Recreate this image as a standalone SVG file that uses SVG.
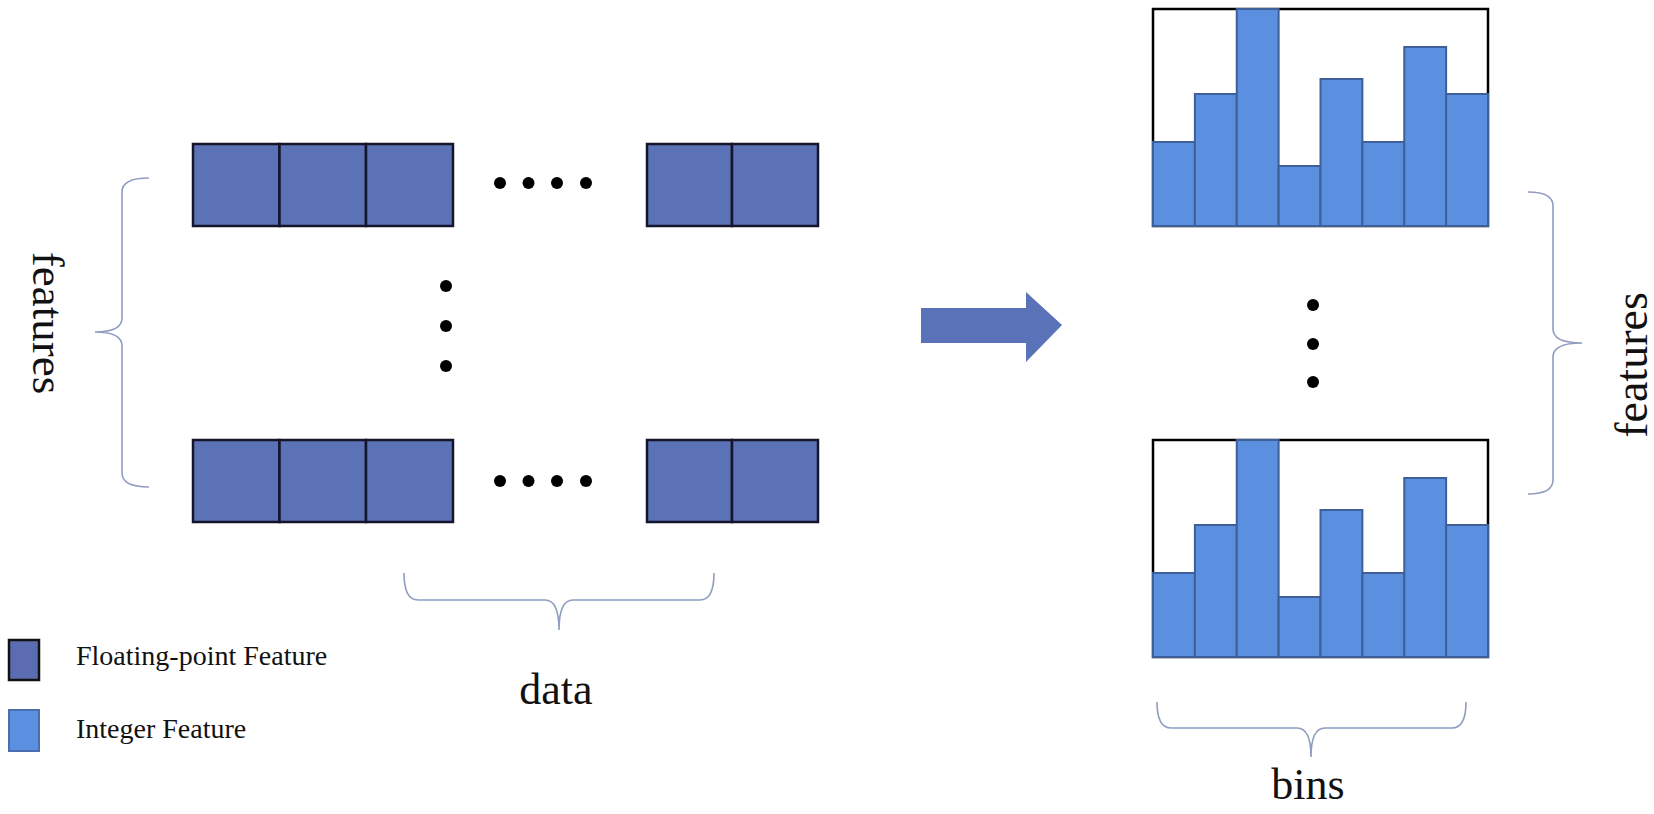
<svg xmlns="http://www.w3.org/2000/svg" width="1654" height="814" viewBox="0 0 1654 814">
<style>
.cell{fill:#5b72b7;stroke:#14142a;stroke-width:2.5}
.frame{fill:#fff;stroke:#000;stroke-width:2.5}
.bar{fill:#5b8fe0;stroke:#3f5f99;stroke-width:2}
.dot{fill:#000}
.brace{fill:none;stroke:#909cc0;stroke-width:1.6}
.lbl{font-family:"Liberation Serif","Times New Roman",serif;fill:#111}
</style>
<rect width="1654" height="814" fill="#fff"/>
<g id="data-top-row">
<rect class="cell" x="193" y="144" width="86.5" height="82"/>
<rect class="cell" x="279.5" y="144" width="86.5" height="82"/>
<rect class="cell" x="366" y="144" width="87" height="82"/>
<rect class="cell" x="647" y="144" width="85" height="82"/>
<rect class="cell" x="732" y="144" width="86" height="82"/>
<circle class="dot" cx="500" cy="183" r="6"/>
<circle class="dot" cx="528.5" cy="183" r="6"/>
<circle class="dot" cx="557" cy="183" r="6"/>
<circle class="dot" cx="586" cy="183" r="6"/>
</g>
<g id="data-vdots">
<circle class="dot" cx="446" cy="286" r="6"/>
<circle class="dot" cx="446" cy="326" r="6"/>
<circle class="dot" cx="446" cy="366" r="6"/>
</g>
<g id="data-bottom-row">
<rect class="cell" x="193" y="440" width="86.5" height="82"/>
<rect class="cell" x="279.5" y="440" width="86.5" height="82"/>
<rect class="cell" x="366" y="440" width="87" height="82"/>
<rect class="cell" x="647" y="440" width="85" height="82"/>
<rect class="cell" x="732" y="440" width="86" height="82"/>
<circle class="dot" cx="500" cy="481" r="6"/>
<circle class="dot" cx="528.5" cy="481" r="6"/>
<circle class="dot" cx="557" cy="481" r="6"/>
<circle class="dot" cx="586" cy="481" r="6"/>
</g>
<g id="features-left">
<path class="brace" d="M149,178 Q122,178 122,192 L122,318 Q122,332 95,332 Q122,332 122,346 L122,473 Q122,487 149,487"/>
<text class="lbl" font-size="45" text-anchor="middle" transform="translate(33,323) rotate(90)">features</text>
</g>
<g id="data-label">
<path class="brace" d="M404,573 Q404,600 418,600 L545,600 Q559,600 559,630 Q559,600 573,600 L700,600 Q714,600 714,573"/>
<text class="lbl" x="556" y="704" font-size="44" text-anchor="middle">data</text>
</g>
<g id="arrow">
<path d="M921,308 L1026,308 L1026,292 L1062,325 L1026,362 L1026,343 L921,343 Z" fill="#5a72b8"/>
</g>
<g id="hist-top">
<rect class="frame" x="1153" y="9" width="335" height="217"/>
<rect class="bar" x="1153" y="142" width="41.875" height="84"/>
<rect class="bar" x="1194.875" y="94" width="41.875" height="132"/>
<rect class="bar" x="1236.75" y="9" width="41.875" height="217"/>
<rect class="bar" x="1278.625" y="166" width="41.875" height="60"/>
<rect class="bar" x="1320.5" y="79" width="41.875" height="147"/>
<rect class="bar" x="1362.375" y="142" width="41.875" height="84"/>
<rect class="bar" x="1404.25" y="47" width="41.875" height="179"/>
<rect class="bar" x="1446.125" y="94" width="41.875" height="132"/>
</g>
<g id="hist-vdots">
<circle class="dot" cx="1313" cy="305" r="6"/>
<circle class="dot" cx="1313" cy="344" r="6"/>
<circle class="dot" cx="1313" cy="382" r="6"/>
</g>
<g id="hist-bottom">
<rect class="frame" x="1153" y="440" width="335" height="217"/>
<rect class="bar" x="1153" y="573" width="41.875" height="84"/>
<rect class="bar" x="1194.875" y="525" width="41.875" height="132"/>
<rect class="bar" x="1236.75" y="440" width="41.875" height="217"/>
<rect class="bar" x="1278.625" y="597" width="41.875" height="60"/>
<rect class="bar" x="1320.5" y="510" width="41.875" height="147"/>
<rect class="bar" x="1362.375" y="573" width="41.875" height="84"/>
<rect class="bar" x="1404.25" y="478" width="41.875" height="179"/>
<rect class="bar" x="1446.125" y="525" width="41.875" height="132"/>
</g>
<g id="features-right">
<path class="brace" d="M1528,192 Q1553,192 1553,206 L1553,329 Q1553,343 1582,343 Q1553,343 1553,357 L1553,480 Q1553,494 1528,494"/>
<text class="lbl" font-size="46" text-anchor="middle" transform="translate(1647,365) rotate(-90)">features</text>
</g>
<g id="bins-label">
<path class="brace" d="M1157,702 Q1157,728 1171,728 L1297,728 Q1311,728 1311,757 Q1311,728 1325,728 L1452,728 Q1466,728 1466,702"/>
<text class="lbl" x="1308" y="799" font-size="44" text-anchor="middle">bins</text>
</g>
<g id="legend">
<rect x="9" y="640" width="30" height="40" fill="#5b6cb0" stroke="#111" stroke-width="2.5"/>
<text class="lbl" x="76" y="665" font-size="28">Floating-point Feature</text>
<rect x="9" y="710" width="30" height="41" fill="#5b8fe0" stroke="#4a6fb0" stroke-width="2"/>
<text class="lbl" x="76" y="738" font-size="28">Integer Feature</text>
</g>
</svg>
